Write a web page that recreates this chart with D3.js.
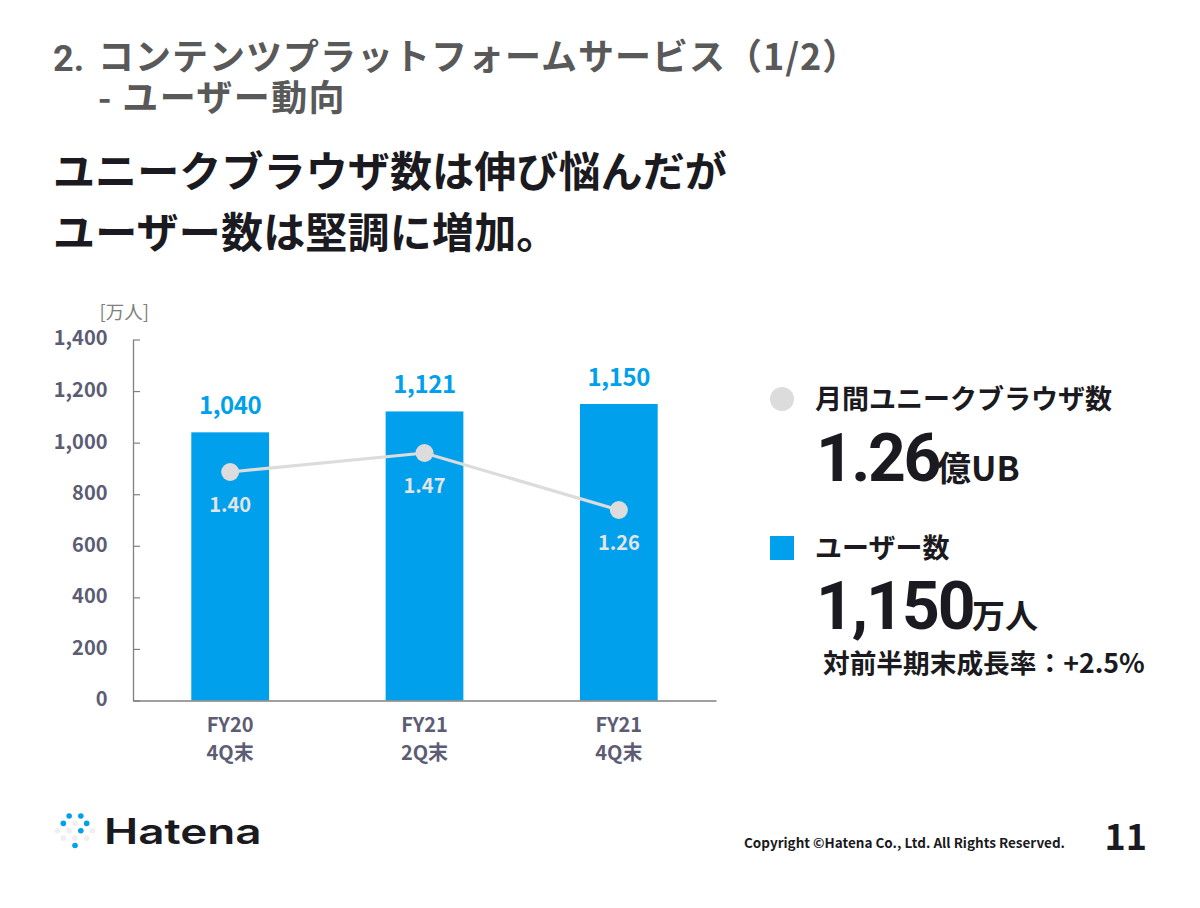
<!DOCTYPE html>
<html>
<head>
<meta charset="utf-8">
<script src="https://cdn.jsdelivr.net/npm/d3@7"></script>
<style>
html, body { margin: 0; padding: 0; background: #fff; }
text { font-family: "Noto Sans CJK JP", "Noto Sans", sans-serif; }
</style>
</head>
<body>
<svg id="slide" width="1200" height="908"></svg>
<script>
var categories = ['FY20|4Q末', 'FY21|2Q末', 'FY21|4Q末'];
var users = [1040, 1121, 1150];
var browsers = [1.40, 1.47, 1.26];
var userTicks = [0, 200, 400, 600, 800, 1000, 1200, 1400];

// logo dots: column, row
var logoBlue = [[-1, -2], [1, -2], [-2, -1], [2, -1], [1, 0], [0, 2]];
var logoGrey = [[0, -1], [-3, 0], [-1, 0], [3, 0], [-2, 1], [0, 1], [2, 1]];

var blue = '#00a0ec';
var grey = '#dcdcdc';
var dark = '#1a1a20';
var titleGrey = '#595959';
var axisText = '#5c5c74';

var svg = d3.select('#slide');

function label(x, y, str, size, fill, anchor, weight) {
  return svg.append('text')
    .attr('x', x)
    .attr('y', y)
    .attr('font-size', size)
    .attr('fill', fill)
    .attr('text-anchor', anchor || 'start')
    .attr('font-weight', weight || 700)
    .text(str);
}

// headings
label(53, 71, '2.', 36, titleGrey).style('font-family', 'Roboto');
label(98, 70, 'コンテンツプラットフォームサービス（1/2）', 36, titleGrey).attr('letter-spacing', 1);
label(98, 111, '- ユーザー動向', 36, titleGrey).attr('letter-spacing', 1.4);
label(53, 187, 'ユニークブラウザ数は伸び悩んだが', 42, dark).attr('letter-spacing', 0.12);
label(53, 248, 'ユーザー数は堅調に増加。', 42, dark).attr('letter-spacing', 0.2);

// chart
var x = d3.scaleBand().domain(categories).range([133, 716]).paddingInner(0.6).paddingOuter(0.3);
var y = d3.scaleLinear().domain([0, 1400]).range([700.5, 339.5]);
var yLine = d3.scaleLinear().domain([0.56, 1.89]).range([700, 339]);

var yAxis = svg.append('g')
  .attr('transform', 'translate(133,0)')
  .call(d3.axisLeft(y).tickValues(userTicks).tickSize(-7).tickSizeOuter(0).tickFormat(d3.format(',')));
yAxis.select('.domain').attr('stroke', '#808080').attr('stroke-width', 1.3);
yAxis.selectAll('.tick line').attr('stroke', '#808080').attr('stroke-width', 1.2);
yAxis.selectAll('.tick text')
  .attr('x', -25.5)
  .attr('dy', '0.27em')
  .attr('font-size', 20)
  .attr('font-weight', 700)
  .attr('fill', axisText);

label(149, 319, '[万人]', 18.5, '#7f7f7f', 'end', 400);

svg.selectAll('rect.bar')
  .data(users)
  .enter()
  .append('rect')
  .attr('class', 'bar')
  .attr('x', function(d, i) { return x(categories[i]); })
  .attr('y', function(d) { return y(d); })
  .attr('width', x.bandwidth())
  .attr('height', function(d) { return y(0) - y(d); })
  .attr('fill', blue);

var xAxis = svg.append('g')
  .attr('transform', 'translate(0,700.5)')
  .call(d3.axisBottom(x).tickSize(0).tickFormat(''));
xAxis.select('.domain').attr('stroke', '#808080').attr('stroke-width', 1.3);

categories.forEach(function(c) {
  var parts = c.split('|');
  var cx = x(c) + x.bandwidth() / 2;
  label(cx, 732, parts[0], 20, axisText, 'middle');
  label(cx, 760, parts[1], 20, axisText, 'middle');
});

svg.selectAll('text.bar-value')
  .data(users)
  .enter()
  .append('text')
  .attr('class', 'bar-value')
  .attr('x', function(d, i) { return x(categories[i]) + x.bandwidth() / 2; })
  .attr('y', function(d) { return y(d) - 18; })
  .attr('text-anchor', 'middle')
  .attr('font-size', 24)
  .attr('letter-spacing', -0.4)
  .attr('font-weight', 700)
  .attr('fill', blue)
  .text(d3.format(','));

var line = d3.line()
  .x(function(d, i) { return x(categories[i]) + x.bandwidth() / 2; })
  .y(function(d) { return yLine(d); });

svg.append('path')
  .attr('d', line(browsers))
  .attr('fill', 'none')
  .attr('stroke', grey)
  .attr('stroke-width', 3.2);

svg.selectAll('circle.point')
  .data(browsers)
  .enter()
  .append('circle')
  .attr('class', 'point')
  .attr('cx', function(d, i) { return x(categories[i]) + x.bandwidth() / 2; })
  .attr('cy', function(d) { return yLine(d); })
  .attr('r', 9)
  .attr('fill', grey);

svg.selectAll('text.point-value')
  .data(browsers)
  .enter()
  .append('text')
  .attr('class', 'point-value')
  .attr('x', function(d, i) { return x(categories[i]) + x.bandwidth() / 2; })
  .attr('y', function(d) { return yLine(d) + 40; })
  .attr('text-anchor', 'middle')
  .attr('font-size', 20)
  .attr('font-weight', 700)
  .attr('fill', '#e4e4e4')
  .text(d3.format('.2f'));

// right side legend
svg.append('circle').attr('cx', 782).attr('cy', 399).attr('r', 12).attr('fill', grey);
label(815, 409, '月間ユニークブラウザ数', 27, dark);
label(816, 481, '1.26', 66, dark).style('font-family', 'Roboto').attr('letter-spacing', -2.5);
label(937, 481, '億UB', 34, dark);

svg.append('rect').attr('x', 770).attr('y', 536).attr('width', 24).attr('height', 24).attr('fill', blue);
label(815, 558, 'ユーザー数', 27, dark);
label(816, 629, '1,150', 66, dark).style('font-family', 'Roboto').attr('letter-spacing', -2);
label(972, 628, '万人', 33, dark);
label(823, 673, '対前半期末成長率：+2.5%', 26.7, dark);

// footer
var logoX = d3.scaleLinear().domain([-3, 3]).range([57.5, 92.5]);
var logoY = d3.scaleLinear().domain([-2, 2]).range([816, 845.5]);
svg.selectAll('circle.logo-grey')
  .data(logoGrey)
  .enter()
  .append('circle')
  .attr('class', 'logo-grey')
  .attr('cx', function(d) { return logoX(d[0]); })
  .attr('cy', function(d) { return logoY(d[1]); })
  .attr('r', 2.8)
  .attr('fill', '#efefef');
svg.selectAll('circle.logo-blue')
  .data(logoBlue)
  .enter()
  .append('circle')
  .attr('class', 'logo-blue')
  .attr('cx', function(d) { return logoX(d[0]); })
  .attr('cy', function(d) { return logoY(d[1]); })
  .attr('r', 2.8)
  .attr('fill', blue);

// logo word is wider than any installed face, so stretch it
label(0, 0, 'Hatena', 35, dark, 'start', 600)
  .style('font-family', 'Inter')
  .attr('transform', 'translate(104,844) scale(1.31,1)');
label(1065, 848, 'Copyright ©Hatena Co., Ltd. All Rights Reserved.', 13.5, dark, 'end');
label(1147, 850, '11', 36, dark, 'end');
</script>
</body>
</html>
